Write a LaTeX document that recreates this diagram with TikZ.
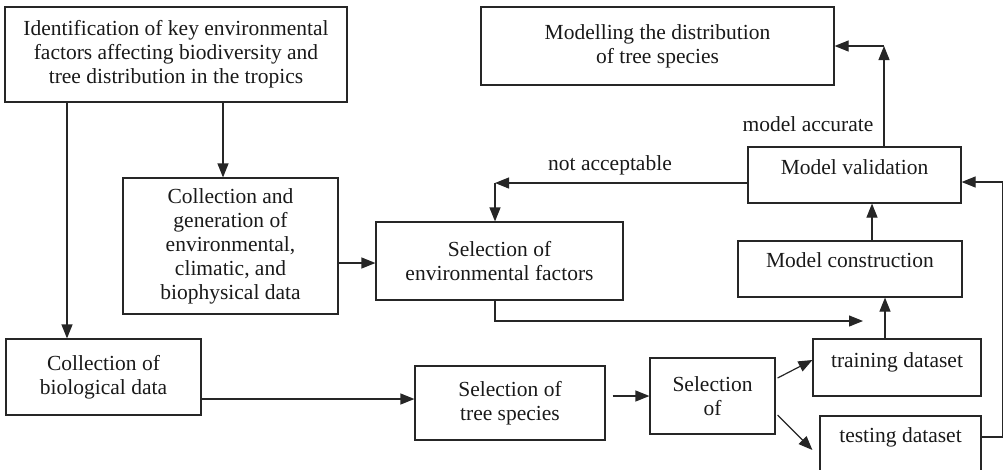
\documentclass[tikz,border=0pt]{standalone}
\usepackage{fontspec}
\setmainfont{Liberation Serif}
\usetikzlibrary{arrows.meta}

\begin{document}
\begin{tikzpicture}[x=1pt, y=-1pt, >={Triangle[length=14pt,width=11pt]}, line width=1.2pt,
  font=\fontsize{21.5}{24}\selectfont,
  box/.style={rectangle, draw=black!85, text=black!90, align=center, inner sep=1pt},
  liftText/.style={text depth=#1},
  note/.style={text=black!90, inner sep=1pt},
  arrow/.style={->, draw=black!85}]
  \useasboundingbox (0,0) rectangle (1003,469);
  \clip (0,0) rectangle (1003,469);
  \node[box, minimum width=342pt, minimum height=95pt] (ident) at (176,54.5) {Identification of key environmental\\factors affecting biodiversity and\\tree distribution in the tropics};
  \node[box, minimum width=353pt, minimum height=78pt] (model) at (657.5,46) {Modelling the distribution\\of tree species};
  \node[box, minimum width=215pt, minimum height=136pt] (envdata) at (230.5,246) {Collection and\\generation of\\environmental,\\climatic, and\\biophysical data};
  \node[box, minimum width=247pt, minimum height=78pt] (envsel) at (499.5,261) {Selection of\\environmental factors};
  \node[box, liftText=15pt, minimum width=213pt, minimum height=56pt] (valid) at (854.5,175) {Model validation};
  \node[box, liftText=17pt, minimum width=224pt, minimum height=56pt] (construct) at (850,269) {Model construction};
  \node[box, minimum width=195pt, minimum height=76pt] (biodata) at (103.5,377) {Collection of\\biological data};
  \node[box, minimum width=190pt, minimum height=74pt] (species) at (510,403) {Selection of\\tree species};
  \node[box, minimum width=125pt, minimum height=76pt] (split) at (712.5,396) {Selection\\of};
  \node[box, liftText=14pt, minimum width=168pt, minimum height=57pt] (train) at (897,367.5) {training dataset};
  \node[box, liftText=25pt, minimum width=161pt, minimum height=64pt] (test) at (900.5,448) {testing dataset};
  \node[note] (accLabel) at (808,124) {model accurate};
  \node[note] (rejLabel) at (610,165) {not acceptable};
  \coordinate (merge) at (863,321);
  \coordinate (accStart) at ([xshift=29.5pt]valid.north);
  \coordinate (accTurn) at (accStart |- model.east);
  \coordinate (rejStart) at ([yshift=-8pt]valid.west);
  \coordinate (rejEnd) at ([xshift=-4.5pt]envsel.north);
  \coordinate (rejTurn) at (rejStart -| rejEnd);
  \draw[arrow] ([xshift=47pt]ident.south) -- ([xshift=-7.5pt]envdata.north);
  \draw[arrow] ([xshift=-109pt]ident.south) -- ([xshift=-36.5pt]biodata.north);
  \draw[arrow] ([yshift=-17pt]envdata.east) -- ([yshift=-2pt]envsel.west);
  \draw[arrow] ([yshift=-22pt]biodata.east) -- ([yshift=4pt]species.west);
  \draw[arrow] ([xshift=7pt,yshift=7pt]species.east) -- (split.west);
  \draw[arrow] ([xshift=2pt,yshift=18pt]split.east) -- ([yshift=7.5pt]train.west);
  \draw[arrow] ([xshift=2pt,yshift=-19pt]split.east) -- ([xshift=-7pt,yshift=-2pt]test.west);
  \draw[arrow] ([xshift=-12pt]train.north) -- ([xshift=35pt]construct.south);
  \draw[arrow] ([xshift=-4.5pt]envsel.south) |- (merge);
  \draw[arrow] ([xshift=22pt]construct.north) -- ([xshift=17.5pt]valid.south);
  \draw[arrow] (accStart) -- (accTurn);
  \draw[arrow] (accTurn) -- (model.east);
  \draw[arrow] (rejStart) -- (rejTurn);
  \draw[arrow] (rejTurn) -- (rejEnd);
  \draw[arrow] ([yshift=11pt]test.east) -- ++(21,0) |- ([yshift=-7pt]valid.east);
\end{tikzpicture}
\end{document}
